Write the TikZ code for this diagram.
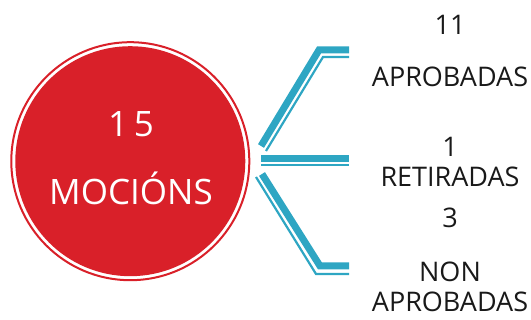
\documentclass[tikz,border=0pt]{standalone}
\usepackage{fontspec}
\setmainfont{Open Sans}
\definecolor{mocred}{HTML}{D92029}
\definecolor{mocteal}{HTML}{2EA6C3}
\tikzset{
  bignum/.style={text=white,anchor=base,font=\fontsize{35}{38}\selectfont},
  sidelab/.style={text=black!90,anchor=base,text depth=0pt,font=\fontsize{27}{30}\selectfont},
  barthick/.style={draw=mocteal,line width=7pt},
  barthin/.style={draw=mocteal,line width=2.2pt}
}
\begin{document}
\begin{tikzpicture}[x=1pt,y=-1pt,every node/.style={inner sep=0pt}]
	\useasboundingbox (0,0) rectangle (531,320);
	% circulo
	\node[circle,draw=mocred,line width=2pt,minimum size=238pt] (ring) at (130.3,161.2) {};
	\node[circle,fill=mocred,minimum size=230pt] (disc) at (ring) {};
	\node[bignum] (tot) at (131,137) {1\,5};
	\node[bignum] (moc) at (131,205) {MOCIÓNS};

	% etiquetas
	\node[sidelab] (n11) at (450,35)  {11};
	\node[sidelab] (ap)  at (450,87)  {APROBADAS};
	\node[sidelab] (n1)  at (450,157) {1};
	\node[sidelab] (ret) at (450,187) {RETIRADAS};
	\node[sidelab] (n3)  at (450,228) {3};
	\node[sidelab] (non) at (450,282) {NON};
	\node[sidelab] (nap) at (450,312) {APROBADAS};

	% chaves
	\coordinate (ta) at (261,146); \coordinate (tb) at (319,50);  \coordinate (tc) at (349,50);
	\coordinate (ua) at (266,151); \coordinate (ub) at (323,57);  \coordinate (uc) at (349,57);
	\coordinate (ma) at (261,158.5); \coordinate (mc) at (349,158.5);
	\coordinate (na) at (261,165);   \coordinate (nc) at (349,165);
	\coordinate (ba) at (262,174); \coordinate (bb) at (320,266); \coordinate (bc) at (349,266);
	\coordinate (ca) at (256,177); \coordinate (cb) at (316,274); \coordinate (cc) at (349,274);

	\foreach \a/\b/\c in {ta/tb/tc,ba/bb/bc}
		\draw[barthick] (\a) -- (\b) -- (\c);
	\foreach \a/\b/\c in {ua/ub/uc,ca/cb/cc}
		\draw[barthin] (\a) -- (\b) -- (\c);
	\draw[barthick] (ma) -- (mc);
	\draw[barthin] (na) -- (nc);
\end{tikzpicture}
\end{document}
